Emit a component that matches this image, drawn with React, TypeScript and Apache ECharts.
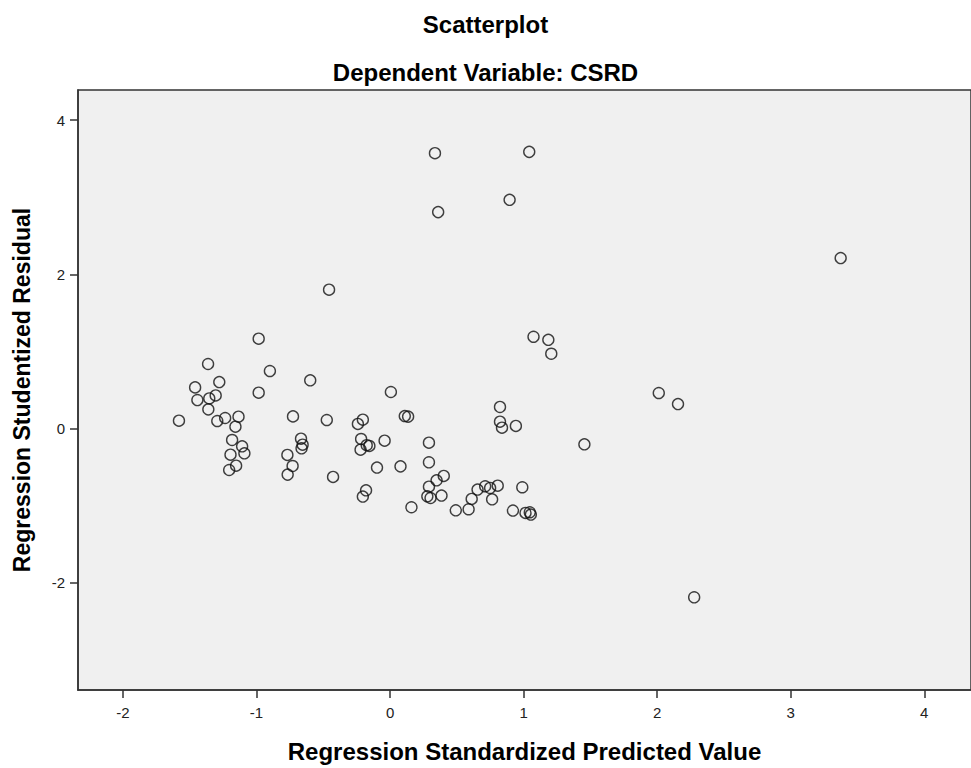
import React, { useEffect, useRef } from "react";
import * as echarts from "echarts";

const xValues = [
  -0.984, -1.363, -0.9, -1.279, -0.598, -1.46, -0.984, 0.006, -1.443, -1.354,
  -1.306, -1.361, -1.581, -1.294, -1.235, -1.135, -1.158, -0.727, -0.474, -0.241,
  -0.204, -0.217, -0.221, -0.175, -0.155, -0.041, -1.183, -1.108, -1.091, -1.195,
  -1.153, -1.205, -0.667, -0.655, -0.663, -0.769, -0.73, -0.767, -0.427, -0.098,
  0.078, -0.204, -0.18, 0.11, 0.135, 0.291, 0.291, 0.823, 0.823, 0.838,
  0.942, 1.455, 0.402, 0.348, 0.291, 0.279, 0.303, 0.385, 0.16, 0.492,
  0.588, 0.611, 0.655, 0.712, 0.749, 0.806, 0.764, 0.99, 0.92, 1.014,
  1.046, 1.054, -0.457, 0.336, 1.042, 0.36, 0.895, 1.074, 1.185, 1.207,
  3.374, 2.012, 2.156, 2.277,
];
const yValues = [
  1.165, 0.837, 0.746, 0.603, 0.625, 0.534, 0.465, 0.474, 0.37, 0.391,
  0.43, 0.249, 0.102, 0.098, 0.137, 0.154, 0.025, 0.158, 0.111, 0.06,
  0.115, -0.135, -0.273, -0.215, -0.225, -0.157, -0.148, -0.23, -0.321, -0.338,
  -0.481, -0.537, -0.131, -0.209, -0.256, -0.342, -0.485, -0.597, -0.627, -0.506,
  -0.49, -0.882, -0.8, 0.162, 0.155, -0.183, -0.437, 0.28, 0.089, 0.012,
  0.034, -0.204, -0.614, -0.671, -0.753, -0.878, -0.9, -0.869, -1.02, -1.06,
  -1.046, -0.912, -0.791, -0.748, -0.77, -0.74, -0.917, -0.761, -1.063, -1.094,
  -1.085, -1.115, 1.8, 3.57, 3.587, 2.806, 2.965, 1.19, 1.15, 0.97,
  2.21, 0.461, 0.318, -2.187,
];
const xTicks = [-2, -1, 0, 1, 2, 3, 4];
const yTicks = [-2, 0, 2, 4];

const chartTitle = "Scatterplot";
const chartSubtitle = "Dependent Variable: CSRD";
const xName = "Regression Standardized Predicted Value";
const yName = "Regression Studentized Residual";

export default function App() {
  const ref = useRef<HTMLDivElement>(null);
  useEffect(() => {
    if (!ref.current) return;
    const chart = echarts.init(ref.current, null, { renderer: "svg" });
    const data = xValues.map((x, i) => [x, yValues[i]]);
    const axisColor = "#333";
    const titleStyle = {
      fontFamily: "Arial",
      fontWeight: "bold" as const,
      fontSize: 24,
      color: "#000",
    };
    const labelStyle = {
      fontFamily: "Arial",
      fontSize: 15,
      color: "#222",
    };
    chart.setOption({
      animation: false,
      backgroundColor: "#ffffff",
      title: [
        { text: chartTitle, left: "center", top: 7, textStyle: titleStyle },
        { text: chartSubtitle, left: "center", top: 55, textStyle: titleStyle },
      ],
      grid: {
        left: 78,
        top: 90,
        right: -7,
        bottom: 77.5,
        show: true,
        backgroundColor: "#f0f0f0",
        borderColor: axisColor,
        borderWidth: 1.5,
      },
      xAxis: {
        type: "value",
        min: -2.337,
        max: 4.35,
        name: xName,
        nameLocation: "middle",
        nameGap: 49,
        nameTextStyle: { fontFamily: "Arial", fontWeight: "bold", fontSize: 24, color: "#000" },
        axisLine: { show: true, onZero: false, lineStyle: { color: axisColor, width: 1.5 } },
        axisTick: {
          show: true,
          customValues: xTicks,
          length: 8,
          lineStyle: { color: axisColor, width: 1.5 },
        },
        axisLabel: { customValues: xTicks, margin: 15, ...labelStyle },
        splitLine: { show: false },
      },
      yAxis: {
        type: "value",
        min: -3.389,
        max: 4.389,
        name: yName,
        nameLocation: "middle",
        nameGap: 45,
        nameTextStyle: { fontFamily: "Arial", fontWeight: "bold", fontSize: 23, color: "#000" },
        axisLine: { show: true, onZero: false, lineStyle: { color: axisColor, width: 1.5 } },
        axisTick: {
          show: true,
          customValues: yTicks,
          length: 8,
          lineStyle: { color: axisColor, width: 1.5 },
        },
        axisLabel: { customValues: yTicks, margin: 13, ...labelStyle },
        splitLine: { show: false },
      },
      series: [
        {
          type: "scatter",
          data,
          symbol: "circle",
          symbolSize: 11,
          itemStyle: { color: "rgba(0,0,0,0)", borderColor: "#111", borderWidth: 1.4 },
        },
      ],
    });
    return () => chart.dispose();
  }, []);
  return (
    <div
      ref={ref}
      style={{ position: "absolute", top: 0, left: 0, width: 971, height: 768 }}
    />
  );
}
